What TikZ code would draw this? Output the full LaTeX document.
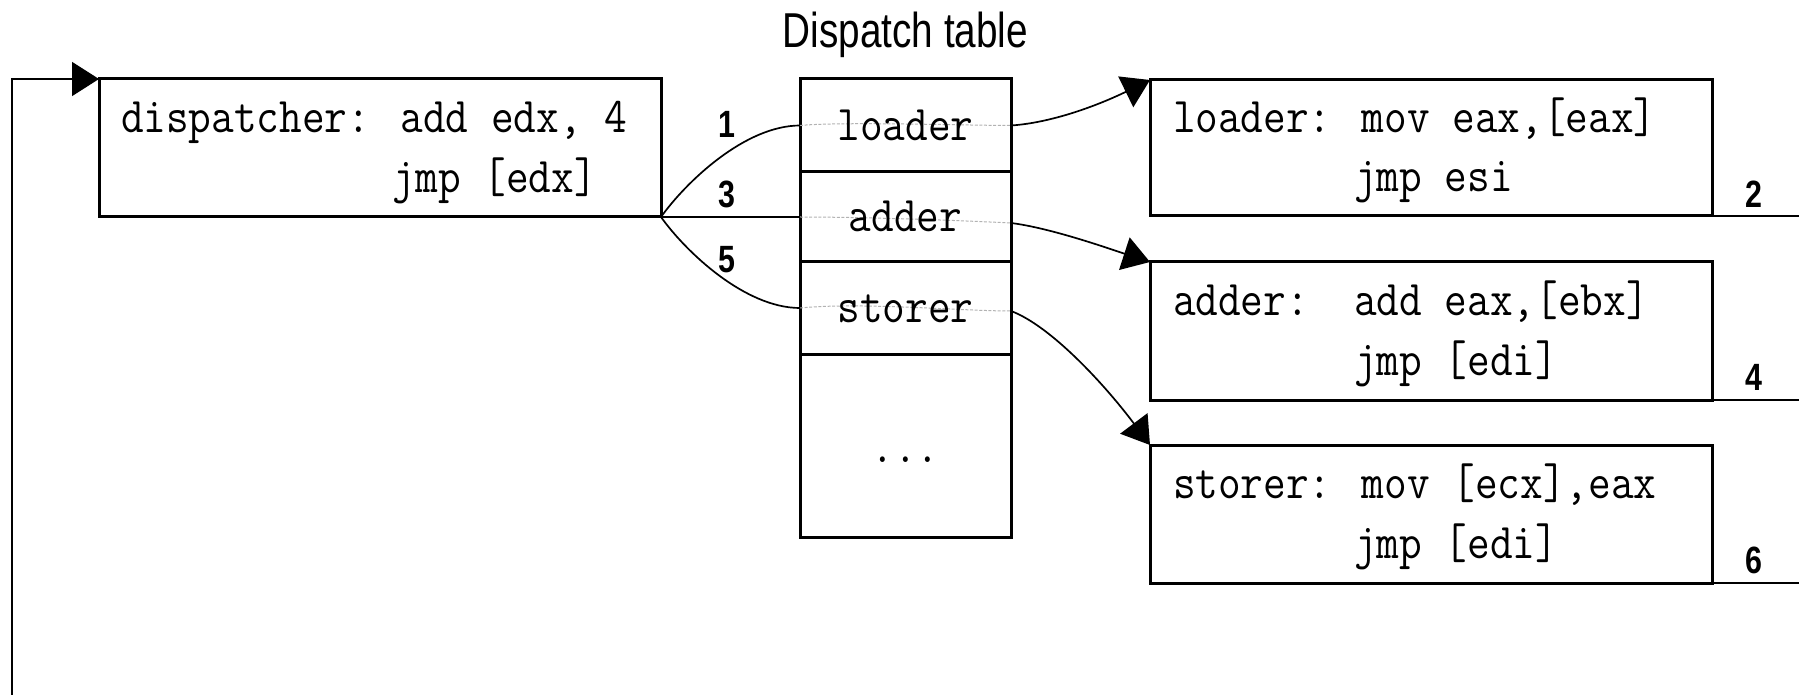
\documentclass[tikz,border=0pt]{standalone}
\usepackage{fontspec}
\usepackage{graphicx}
\usetikzlibrary{arrows.meta,calc}
\newfontfamily\labfont{Liberation Sans}
% narrow glyph styles used throughout the figure
\newcommand{\codetxt}[1]{\scalebox{0.88}[1]{\ttfamily\fontsize{25pt}{30pt}\selectfont #1}}
\newcommand{\numtxt}[1]{\scalebox{0.8}[1]{\labfont\fontsize{19pt}{22pt}\selectfont\bfseries #1}}
\newcommand{\titletxt}[1]{\scalebox{0.79}[1]{\labfont\fontsize{24.5pt}{29pt}\selectfont #1}}

\begin{document}
\begin{tikzpicture}[x=0.5pt, y=-0.5pt,
  box/.style={draw, line width=1.5pt, inner sep=0pt, outer sep=0pt, anchor=north west,
              minimum width=281pt, minimum height=69pt},
  cell/.style={draw, line width=1.5pt, inner sep=0pt, outer sep=0pt, anchor=north west,
               minimum width=105.5pt},
  conn/.style={line width=0.85pt},
  tip/.style={-{Triangle[length=13.5pt,width=17pt]}},
  faint/.style={draw=black!30, line width=0.5pt, dash pattern=on 1.5pt off 0.8pt},
  txt/.style={inner sep=0pt, outer sep=0pt, anchor=base west},
  ctr/.style={inner sep=0pt, outer sep=0pt, anchor=base}
]
\useasboundingbox (0,0) rectangle (1799,695);

% gadget boxes
\node[box] (disp) at (99,79) {};
\node[box, minimum height=68pt] (lbox) at (1150,80) {};
\node[box] (abox) at (1150,262) {};
\node[box] (sbox) at (1150,445) {};

% dispatch table cells
\node[cell, minimum height=46.5pt] (cloader) at (800,79) {};
\node[cell, minimum height=45pt] (cadder) at (800,172) {};
\node[cell, minimum height=46pt] (cstorer) at (800,262) {};
\node[cell, minimum height=91.5pt] (cdots) at (800,354) {};

% ports where the connectors pass through the table
\coordinate (lin) at (cloader.west);
\coordinate (lout) at (cloader.east);
\coordinate (ain) at (cadder.west);
\coordinate (aout) at ([yshift=-3pt]cadder.east);
\coordinate (sin) at (cstorer.west);
\coordinate (sout) at ([yshift=-1.5pt]cstorer.east);
\coordinate (redge) at (1799,0);
\coordinate (loopfoot) at (12,695);

% faint traces behind the table entries
\draw[faint] (lin) .. controls +(40,-4) and +(-40,0) .. (lout);
\draw[faint] (ain) .. controls +(60,0) and +(-60,-3) .. (aout);
\draw[faint] (sin) .. controls +(60,-6) and +(-50,0) .. (sout);

% title
\node[ctr] (title) at ([yshift=15.5pt]cloader.north) {\titletxt{Dispatch table}};

% code text
\node[txt] (d1) at ([shift={(22,54)}]disp.north west) {\codetxt{dispatcher: add edx, 4}};
\node[txt] (d2) at ([shift={(22,114)}]disp.north west) {\codetxt{\hphantom{dispatcher:~}jmp [edx]}};
\node[txt] (l1) at ([shift={(23,53)}]lbox.north west) {\codetxt{loader: mov eax,[eax]}};
\node[txt] (l2) at ([shift={(23,112)}]lbox.north west) {\codetxt{\hphantom{loader:~}jmp esi}};
\node[txt] (a1) at ([shift={(23,53)}]abox.north west) {\codetxt{adder:~~add eax,[ebx]}};
\node[txt] (a2) at ([shift={(23,113)}]abox.north west) {\codetxt{\hphantom{adder:~~}jmp [edi]}};
\node[txt] (s1) at ([shift={(23,53)}]sbox.north west) {\codetxt{storer: mov [ecx],eax}};
\node[txt] (s2) at ([shift={(23,113)}]sbox.north west) {\codetxt{\hphantom{storer:~}jmp [edi]}};

% table entries
\node[ctr] (tl) at ([shift={(0,62)}]cloader.north) {\codetxt{loader}};
\node[ctr] (ta) at ([shift={(0,60)}]cadder.north) {\codetxt{adder}};
\node[ctr] (ts) at ([shift={(0,60)}]cstorer.north) {\codetxt{storer}};
\node[ctr] (td) at ([shift={(0,108)}]cdots.north) {\codetxt{...}};

% dispatcher to table
\draw[conn] (disp.south east) .. controls +(25,-35) and +(-55,0) .. (lin);
\draw[conn] (disp.south east) -- (ain);
\draw[conn] (disp.south east) .. controls +(25,35) and +(-55,0) .. (sin);

% table to gadgets
\draw[conn, tip] (lout) .. controls +(45,-3) and +(-45,22) .. (lbox.north west);
\draw[conn, tip] (aout) .. controls +(40,5) and +(-40,-13) .. (abox.north west);
\draw[conn, tip] (sout) .. controls +(40,15) and +(-45,-60) .. (sbox.north west);

% gadget exits back to the dispatcher
\draw[conn] (lbox.south east) -- (lbox.south east -| redge);
\draw[conn] (abox.south east) -- (abox.south east -| redge);
\draw[conn] (sbox.south east) -- (sbox.south east -| redge);
\draw[conn, tip] (loopfoot) |- (disp.north west);

% step numbers
\node[ctr] (n1) at ([shift={(66,-79)}]disp.south east) {\numtxt{1}};
\node[ctr] (n3) at ([shift={(66,-9)}]disp.south east) {\numtxt{3}};
\node[ctr] (n5) at ([shift={(66,55)}]disp.south east) {\numtxt{5}};
\node[ctr] (n2) at ([shift={(42,-8)}]lbox.south east) {\numtxt{2}};
\node[ctr] (n4) at ([shift={(42,-10)}]abox.south east) {\numtxt{4}};
\node[ctr] (n6) at ([shift={(42,-10)}]sbox.south east) {\numtxt{6}};
\end{tikzpicture}
\end{document}
